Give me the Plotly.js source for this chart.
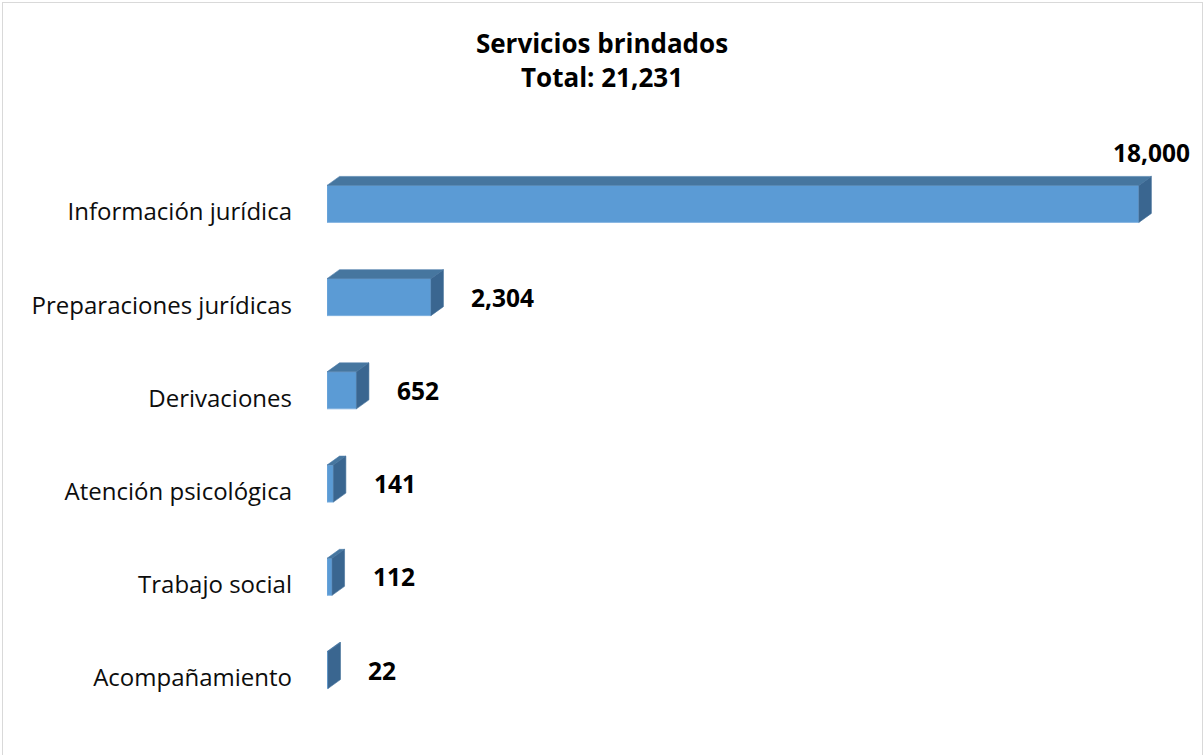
<!DOCTYPE html>
<html>
<head>
<meta charset="utf-8">
<script src="https://cdn.plot.ly/plotly-3.0.1.min.js"></script>
<style>
  html, body { margin: 0; padding: 0; background: #fff; }
  #frame { position: absolute; left: 2px; top: 2px; width: 1201px; height: 770px; border: 1px solid #d9d9d9; box-sizing: border-box; }
  #chart { position: absolute; left: 0; top: 0; width: 1204px; height: 755px; }
</style>
</head>
<body>
<div id="frame"></div>
<div id="chart"></div>
<script>
// ---- data ----
const categories = [
  "Información jurídica",
  "Preparaciones jurídicas",
  "Derivaciones",
  "Atención psicológica",
  "Trabajo social",
  "Acompañamiento"
];
const values = [18000, 2304, 652, 141, 112, 22];
const valueLabels = ["18,000", "2,304", "652", "141", "112", "22"];
const chartTitle = "Servicios brindados";
const chartSubtitle = "Total: 21,231";

// ---- style / geometry ----
const W = 1204, H = 755;
const margin = {l: 327, r: 20, t: 120, b: 29};
const xMax = 19000;
const yRange = [categories.length - 0.4, -0.9];
const plotW = W - margin.l - margin.r;
const plotH = H - margin.t - margin.b;
const pxPerX = plotW / xMax;
const pxPerY = plotH / Math.abs(yRange[0] - yRange[1]);
const depthPxX = 12.5, depthPxY = 9;
const dX = depthPxX / pxPerX;   // depth in x data units
const dY = depthPxY / pxPerY;   // depth in y data units
const barH = 37 / pxPerY;       // bar thickness in category units
const tickShift = 8 / pxPerY;   // category labels sit slightly below bar centre

const frontColor = "#5B9BD5";
const topColor = "#46769F";
const sideColor = "#3A6690";
const font = "'Open Sans', 'Noto Sans', sans-serif";

const idx = categories.map((c, i) => i);

const traces = [];
traces.push({
  type: "bar",
  orientation: "h",
  x: values,
  y: idx,
  width: barH,
  marker: {color: frontColor, line: {color: "#7DB0E0", width: 0.8}},
  hoverinfo: "skip",
  showlegend: false
});

values.forEach((v, i) => {
  const yTop = i - barH / 2;       // upper edge on screen (reversed axis)
  const yBot = i + barH / 2;
  // top face
  traces.push({
    type: "scatter", mode: "lines", fill: "toself",
    x: [0, v, v + dX, dX, 0],
    y: [yTop, yTop, yTop - dY, yTop - dY, yTop],
    fillcolor: topColor, line: {color: "#4F80AC", width: 0.6},
    hoverinfo: "skip", showlegend: false
  });
  // side face
  traces.push({
    type: "scatter", mode: "lines", fill: "toself",
    x: [v, v + dX, v + dX, v, v],
    y: [yTop, yTop - dY, yBot - dY, yBot, yTop],
    fillcolor: sideColor, line: {color: "#43709A", width: 0.6},
    hoverinfo: "skip", showlegend: false
  });
});

const maxV = Math.max(...values);
const labelFont = {family: font, size: 24.5, color: "#000"};
const annotations = values.map((v, i) => {
  if (v === maxV) {
    return {
      x: v + dX, y: i - barH / 2 - dY, xref: "x", yref: "y",
      text: "<b>" + valueLabels[i] + "</b>", showarrow: false,
      xanchor: "center", yanchor: "bottom", yshift: 5,
      font: labelFont
    };
  }
  return {
    x: v + dX, y: i, xref: "x", yref: "y",
    text: "<b>" + valueLabels[i] + "</b>", showarrow: false,
    xanchor: "left", yanchor: "middle", xshift: 26,
    font: labelFont
  };
});

const layout = {
  width: W, height: H,
  margin: margin,
  paper_bgcolor: "rgba(0,0,0,0)",
  plot_bgcolor: "rgba(0,0,0,0)",
  title: {
    text: "<b>" + chartTitle + "</b><br><b>" + chartSubtitle + "</b>",
    font: {family: font, size: 26, color: "#000"},
    x: 0.5, xanchor: "center", xref: "container",
    y: 0.93, yanchor: "top", yref: "container"
  },
  xaxis: {
    range: [0, xMax], visible: false, showgrid: false, zeroline: false, fixedrange: true
  },
  yaxis: {
    range: yRange,
    tickvals: idx.map(i => i + tickShift), ticktext: categories,
    showgrid: false, zeroline: false, showline: false, ticks: "",
    ticklabelstandoff: 34,
    tickfont: {family: font, size: 24, color: "#0d0d0d"},
    fixedrange: true
  },
  bargap: 0,
  annotations: annotations,
  showlegend: false
};

Plotly.newPlot("chart", traces, layout, {staticPlot: true, displayModeBar: false});
</script>
</body>
</html>
